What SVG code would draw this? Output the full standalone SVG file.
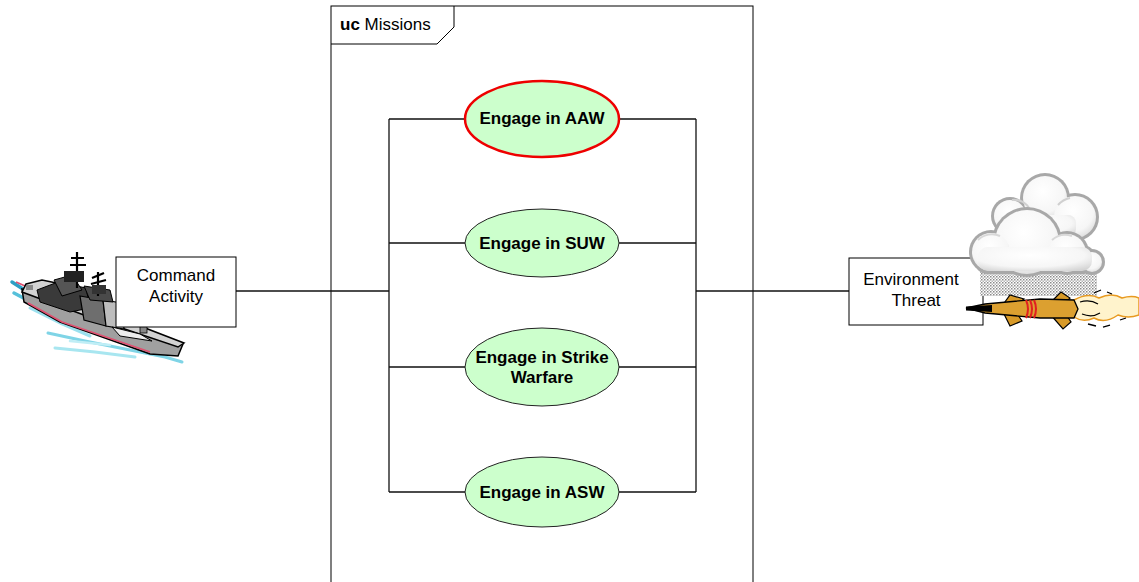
<svg xmlns="http://www.w3.org/2000/svg" width="1139" height="582" viewBox="0 0 1139 582">
  <style>
    .txt { font-family: "Liberation Sans", Arial, sans-serif; font-size: 17px; fill: #000; }
    .lbl { font-family: "Liberation Sans", Arial, sans-serif; font-size: 17px; font-weight: bold; fill: #000; text-anchor: middle; }
    .box { fill: #fff; stroke: #000; stroke-width: 1; }
    .uc { fill: #ccffcc; stroke: #222; stroke-width: 1; }
    .wire { fill: none; stroke: #111; stroke-width: 1.3; }
    .cloud-edge { fill: #a8a8a8; }
    .cloud-body { fill: url(#cloudFill); }
    .fin { fill: #d89a28; stroke: #000; stroke-width: 1.2; }
  </style>
  <defs>
    <radialGradient id="cloudFill" cx="0.45" cy="0.35" r="0.75">
      <stop offset="0" stop-color="#ffffff"/>
      <stop offset="0.65" stop-color="#f6f6f6"/>
      <stop offset="1" stop-color="#d4d4d4"/>
    </radialGradient>
    <pattern id="rainDots" width="3" height="3" patternUnits="userSpaceOnUse">
      <rect width="3" height="3" fill="#fff"/>
      <rect x="0" y="0" width="1.5" height="1.5" fill="#8a8a8a"/>
      <rect x="1.5" y="1.5" width="1.5" height="1.5" fill="#b4b4b4"/>
    </pattern>
  </defs>

  <rect width="1139" height="582" fill="#fff"/>

  <!-- system boundary frame -->
  <g id="frame-missions">
    <rect x="331" y="6" width="422" height="600" fill="none" stroke="#000" stroke-width="1"/>
    <path d="M331,44 H437 L454,27 V6" fill="none" stroke="#000" stroke-width="1"/>
    <text class="txt" x="340" y="30"><tspan font-weight="bold">uc</tspan> Missions</text>
  </g>

  <!-- connectors -->
  <g id="connectors">
    <path class="wire" d="M236,291 H389"/>
    <path class="wire" d="M389,119 V492"/>
    <path class="wire" d="M389,119 H465 M389,243 H465 M389,367 H465 M389,492 H465"/>
    <path class="wire" d="M696,119 V492"/>
    <path class="wire" d="M619,119 H696 M619,243 H696 M619,367 H696 M619,492 H696"/>
    <path class="wire" d="M696,291 H849"/>
  </g>

  <!-- use cases -->
  <g id="uc-aaw">
    <ellipse cx="542" cy="119" rx="77" ry="38" fill="#ccffcc" stroke="#ee0000" stroke-width="2.5"/>
    <text class="lbl" x="542" y="124">Engage in AAW</text>
  </g>
  <g id="uc-suw">
    <ellipse class="uc" cx="542" cy="243" rx="77" ry="34"/>
    <text class="lbl" x="542" y="249">Engage in SUW</text>
  </g>
  <g id="uc-strike">
    <ellipse class="uc" cx="542" cy="367" rx="77" ry="39"/>
    <text class="lbl" x="542" y="363">Engage in Strike</text>
    <text class="lbl" x="542" y="383">Warfare</text>
  </g>
  <g id="uc-asw">
    <ellipse class="uc" cx="542" cy="492" rx="77" ry="35"/>
    <text class="lbl" x="542" y="498">Engage in ASW</text>
  </g>

  <!-- actor: command activity with ship -->
  <g id="actor-command">
    <g id="ship">
      <!-- wake / water -->
      <g fill="none" stroke-linecap="round">
        <path d="M12,282 L40,300 L75,320" stroke="#2f9fc4" stroke-width="3.5"/>
        <path d="M14,293 L50,312 L95,332 L140,348" stroke="#56c0da" stroke-width="3.5"/>
        <path d="M30,308 L62,324 L90,336" stroke="#9be0ee" stroke-width="3"/>
        <path d="M48,333 L85,341 L125,349 L165,357 L182,362" stroke="#7fd4e6" stroke-width="3"/>
        <path d="M55,348 L95,352 L135,357" stroke="#a8e6f0" stroke-width="3"/>
        <path d="M70,341 L110,345" stroke="#c0eef6" stroke-width="2.5"/>
      </g>
      <!-- hull side -->
      <polygon points="22,289 183,344 178,356 150,354 60,322 24,302" fill="#a0a0a0" stroke="#000" stroke-width="1.5"/>
      <path d="M28,303 L62,322 L150,352" fill="none" stroke="#e05070" stroke-width="1.8"/>
      <path d="M16,282 L32,289" stroke="#e05070" stroke-width="1.8"/>
      <!-- deck -->
      <polygon points="26,284 42,280 100,292 140,326 184,343 178,347 92,318 22,292" fill="#d2d2d2" stroke="#000" stroke-width="1.5"/>
      <!-- superstructure -->
      <polygon points="37,290 58,282 86,288 90,308 70,312 40,302" fill="#3a3a3a" stroke="#000" stroke-width="1"/>
      <polygon points="54,280 72,275 82,290 62,296" fill="#555" stroke="#000" stroke-width="1"/>
      <polygon points="80,296 103,300 106,326 84,320" fill="#6e6e6e" stroke="#000" stroke-width="1.2"/>
      <polygon points="103,300 122,303 124,329 106,326" fill="#bdbdbd" stroke="#000" stroke-width="1.2"/>
      <polygon points="84,286 110,290 113,302 90,300" fill="#4a4a4a" stroke="#000" stroke-width="1"/>
      <polygon points="112,327 140,334 152,341 120,336" fill="#ececec" stroke="#000" stroke-width="1"/>
      <rect x="140" y="326" width="7" height="7" fill="#888" stroke="#000" stroke-width="0.8"/>
      <rect x="26" y="285" width="7" height="5" fill="#888"/>
      <!-- masts -->
      <g stroke="#000" stroke-width="2.2" fill="none">
        <path d="M77,252 V288"/>
        <path d="M71,258 H84 M70,265 H86"/>
        <path d="M98,272 V296"/>
        <path d="M92,278 L104,273 M91,284 L106,280"/>
      </g>
      <rect x="64" y="271" width="20" height="11" fill="#222"/>
      <rect x="92" y="285" width="14" height="9" fill="#333"/>
    </g>
    <rect class="box" x="116" y="257" width="120" height="70"/>
    <text class="txt" x="176" y="281" text-anchor="middle">Command</text>
    <text class="txt" x="176" y="302" text-anchor="middle">Activity</text>
  </g>

  <!-- actor: environment / threat with cloud and missile -->
  <g id="actor-environment">
    <rect class="box" x="849" y="258" width="134" height="67"/>
    <text class="txt" x="911" y="285" text-anchor="middle">Environment</text>
    <text class="txt" x="916" y="306" text-anchor="middle">Threat</text>
    <g id="cloud">
      <rect x="980" y="270" width="117" height="26" fill="url(#rainDots)"/>
      <!-- back cloud: outline layer then body layer -->
      <g class="cloud-edge">
        <circle cx="1045" cy="198" r="25"/>
        <circle cx="1010" cy="216" r="19"/>
        <circle cx="1075" cy="217" r="24"/>
        <rect x="1008" y="215" width="70" height="25" rx="10"/>
      </g>
      <g class="cloud-body">
        <circle cx="1045" cy="198" r="22"/>
        <circle cx="1010" cy="216" r="16"/>
        <circle cx="1075" cy="217" r="21"/>
        <rect x="1010" y="215" width="66" height="22" rx="8"/>
      </g>
      <path d="M1012,200 A17,17 0 0 1 1030,210" fill="none" stroke="#d0d0d0" stroke-width="2"/>
      <path d="M1058,205 A22,22 0 0 1 1070,198" fill="none" stroke="#d0d0d0" stroke-width="2"/>
      <!-- front cloud -->
      <g class="cloud-edge">
        <circle cx="1027" cy="242" r="35"/>
        <circle cx="991" cy="252" r="22"/>
        <circle cx="1067" cy="253" r="22"/>
        <circle cx="1092" cy="262" r="13"/>
        <rect x="975" y="245" width="120" height="29" rx="12"/>
      </g>
      <g class="cloud-body">
        <circle cx="1027" cy="242" r="32"/>
        <circle cx="991" cy="252" r="19"/>
        <circle cx="1067" cy="253" r="19"/>
        <circle cx="1092" cy="262" r="10"/>
        <rect x="978" y="247" width="114" height="24" rx="10"/>
      </g>
      <path d="M978,240 A20,20 0 0 1 1000,236" fill="none" stroke="#d8d8d8" stroke-width="2"/>
      <path d="M1052,240 A20,20 0 0 1 1072,236" fill="none" stroke="#d8d8d8" stroke-width="2"/>
    </g>
    <g id="missile">
      <!-- flame -->
      <path d="M1074,300 Q1088,292 1099,298 Q1112,292 1122,298 Q1132,295 1139,298 L1139,315 Q1128,319 1118,315 Q1105,324 1094,318 Q1083,323 1074,317 Z" fill="#fff3cc" stroke="#e89a20" stroke-width="1.5"/>
      <path d="M1080,302 Q1090,299 1098,304" fill="none" stroke="#000" stroke-width="1.2"/>
      <path d="M1082,314 Q1092,318 1100,313" fill="none" stroke="#000" stroke-width="1.2"/>
      <path d="M1094,293 L1101,290 M1107,292 L1112,294 M1088,324 L1096,326 M1103,327 L1110,325 M1120,320 L1126,318" stroke="#000" stroke-width="1.3"/>
      <!-- fins -->
      <polygon class="fin" points="1002,306 1010,295 1024,299 1016,306"/>
      <polygon class="fin" points="1048,305 1061,292 1070,298 1064,305"/>
      <polygon class="fin" points="1003,312 1010,326 1022,321 1016,312"/>
      <polygon class="fin" points="1050,314 1063,329 1071,322 1065,313"/>
      <!-- body -->
      <path d="M966,308 L985,304 L1040,299 L1074,300 L1078,309 L1074,318 L1040,318 L985,313 Z" fill="#dca030" stroke="#000" stroke-width="1.3"/>
      <path d="M966,306.5 L992,305 L992,312 L966,310.5 Z" fill="#000"/>
      <path d="M1026,300 Q1030,309 1026,318 M1030,300 Q1034,309 1030,318 M1034,300 Q1038,309 1034,318" fill="none" stroke="#e02020" stroke-width="2"/>
    </g>
  </g>
</svg>
